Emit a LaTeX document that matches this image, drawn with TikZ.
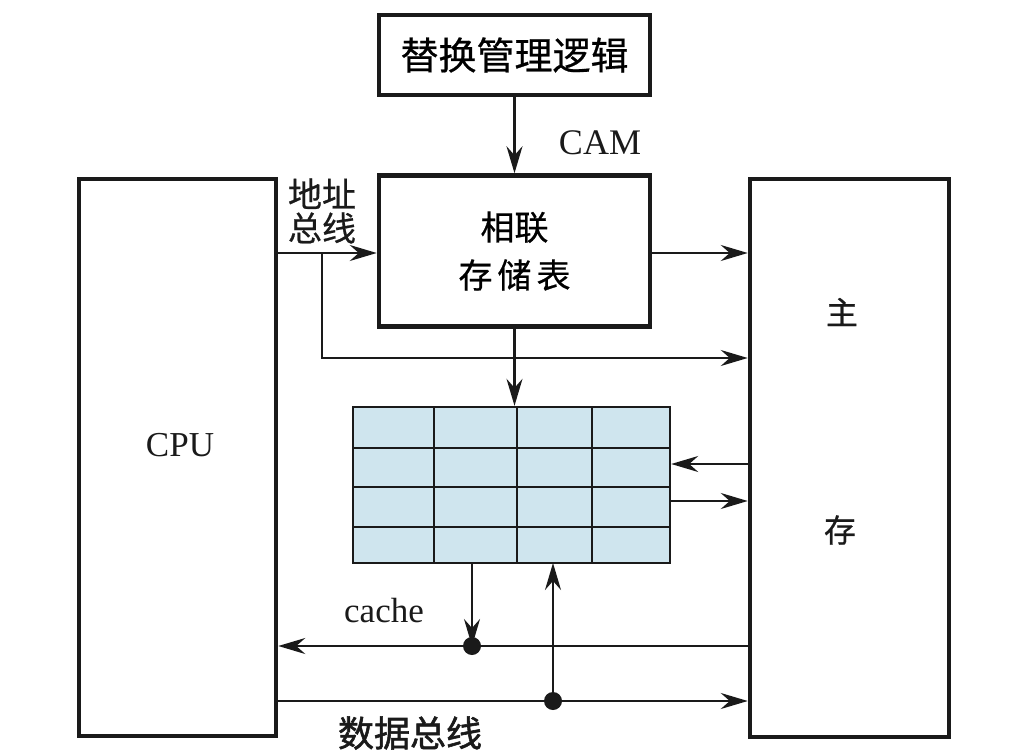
\documentclass[tikz,border=0pt]{standalone}
\usepackage{fontspec}
\setmainfont{Liberation Serif}
\newfontfamily\cjk[FakeBold=0.6]{Noto Sans CJK SC}
\newfontfamily\cjkb[FakeBold=1.5]{Noto Sans CJK SC}
\usetikzlibrary{arrows.meta,calc}
\definecolor{cellblue}{RGB}{207,229,238}
\definecolor{ink}{RGB}{26,26,26}
\tikzset{
  box/.style={draw=ink, line width=4.5pt, inner sep=0pt, fill=white},
  arr/.style={draw=ink, line width=2.1pt, -{Stealth[length=27pt,width=16pt,inset=9pt]}},
  gridln/.style={draw=ink, line width=2.4pt},
  dotc/.style={circle, fill=ink, inner sep=0pt, minimum size=18pt},
  lbl/.style={inner sep=0pt, text=ink},
}
\begin{document}
\begin{tikzpicture}[x=1pt,y=-1pt]
\useasboundingbox (0,0) rectangle (1030,754);
% boxes
\node[box, minimum width=271pt, minimum height=80pt, font=\cjk\fontsize{38pt}{42pt}\selectfont] (top) at (514.5,55)
  {替换管理逻辑};
\node[box, minimum width=271pt, minimum height=151pt, align=center, font=\cjk\fontsize{34pt}{48pt}\selectfont] (cam) at (514.5,251)
  {相联\\存\hspace{5pt}储\hspace{5pt}表};
\node[box, minimum width=197pt, minimum height=557pt] (cpu) at (177.5,457.5) {};
\node[box, minimum width=199pt, minimum height=558pt] (main) at (849.5,458) {};
\node[lbl, font=\fontsize{35pt}{40pt}\selectfont] (cpulbl) at (180,445) {CPU};
\node[lbl, font=\cjk\fontsize{32pt}{36pt}\selectfont] (zhu) at (842,312) {主};
\node[lbl, font=\cjk\fontsize{32pt}{36pt}\selectfont] (cun) at (840,530) {存};
\node[lbl, font=\fontsize{36pt}{40pt}\selectfont] (camlbl) at (600,143) {CAM};
\node[lbl, align=center, font=\cjk\fontsize{34pt}{34pt}\selectfont] (addr) at (322,211)
  {地址\\总线};
\node[lbl, font=\fontsize{35pt}{40pt}\selectfont] (cachelbl) at (384,611) {cache};
\node[lbl, font=\cjkb\fontsize{36pt}{40pt}\selectfont] (databus) at (410,733) {数据总线};
% cache grid
\node[draw=ink, line width=2.4pt, fill=cellblue, inner sep=0pt, minimum width=317pt, minimum height=156pt] (grid) at (511.5,485) {};
\foreach \xx in {434,517,592} \draw[gridln] (\xx,407) -- (\xx,563);
\foreach \yy in {448,487,527} \draw[gridln] (353,\yy) -- (670,\yy);
% coordinates
\coordinate (br) at (322,253);
\coordinate (brd) at (322,358);
\coordinate (gin) at (0,464);
\coordinate (gout) at (0,501);
\coordinate (cy) at (0,646);
\coordinate (dy) at (0,701);
\coordinate (gdown) at (472,563);
\coordinate (gup) at (553,563);
\node[dotc] (d1) at (472,646) {};
\node[dotc] (d2) at (553,701) {};
% connectors
\draw[arr] (top.south) -- (top.south |- cam.north);
\draw[arr] (cpu.east |- br) -- (cam.west |- br);
\draw[arr] (br) -- (brd) -- (main.west |- brd);
\draw[arr] (cam.east |- br) -- (main.west |- br);
\draw[arr] (cam.south) -- (cam.south |- grid.north);
\draw[arr] (main.west |- gin) -- (grid.east |- gin);
\draw[arr] (grid.east |- gout) -- (main.west |- gout);
\draw[arr] (gdown) -- (d1.center);
\draw[arr] (main.west |- cy) -- (cpu.east |- cy);
\draw[arr] (cpu.east |- dy) -- (main.west |- dy);
\draw[arr] (d2.center) -- (gup);
\end{tikzpicture}
\end{document}
